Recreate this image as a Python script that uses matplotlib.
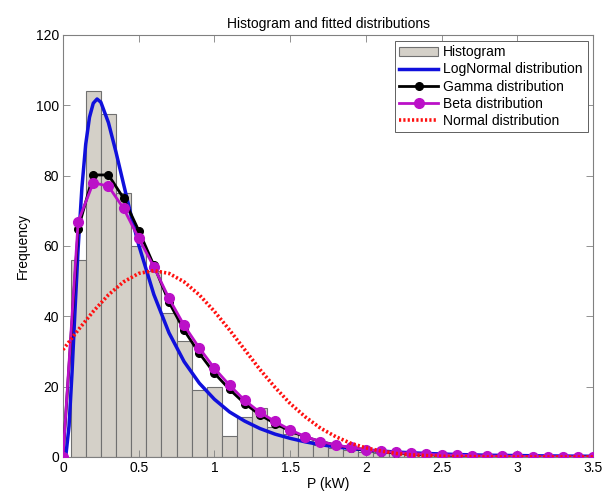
import numpy as np
import matplotlib
matplotlib.use('Agg')
import matplotlib.pyplot as plt

plt.rcParams['font.family'] = ['Liberation Sans', 'DejaVu Sans']

# histogram (bin centres 0.1 .. 2.5, width 0.1)
bin_centers = np.round(np.arange(1, 26) * 0.1, 2)
counts = [56, 104, 97.5, 75, 60, 53, 41, 33, 19, 20,
          6, 11.5, 14, 8.5, 6.5, 4.5, 3.5, 2.5, 2, 1.5,
          1, 1, 0.5, 0.5, 0.5]
bin_width = 0.1

# lognormal curve
logn_x = [0, 0.02, 0.04, 0.06, 0.08, 0.10, 0.125, 0.15, 0.175, 0.20, 0.225,
          0.25, 0.30, 0.35, 0.40, 0.45, 0.50, 0.60, 0.70, 0.80, 0.90, 1.0,
          1.1, 1.2, 1.3, 1.4, 1.5, 1.6, 1.7, 1.8, 1.9, 2.0, 2.2, 2.4, 2.6,
          2.8, 3.0, 3.2, 3.5]
logn_y = [0, 0.8, 8.8, 24.2, 42.3, 59.3, 76.6, 88.9, 96.6, 100.6, 101.8,
          100.9, 95.1, 86.7, 77.6, 68.6, 60.3, 46.2, 35.3, 27.1, 21.0, 16.4,
          12.8, 10.2, 8.1, 6.5, 5.3, 4.3, 3.5, 2.9, 2.4, 2.0, 1.4, 1.0, 0.7,
          0.5, 0.4, 0.3, 0.2]

# gamma / beta / normal sampled every 0.1 from 0 to 3.5
x_grid = np.round(np.arange(36) * 0.1, 2)
gamma_y = [0, 64.8, 80.2, 80.2, 73.6, 64.4, 54.5, 44.0, 36.0, 29.5,
           23.8, 19.2, 15.2, 12.0, 9.5, 7.4, 5.7, 4.4, 3.4, 2.6,
           2.0, 1.5, 1.2, 0.9, 0.7, 0.5, 0.4, 0.3, 0.2, 0.2,
           0.1, 0.1, 0.1, 0, 0, 0]
beta_y = [0, 66.9, 78.0, 77.0, 70.7, 62.2, 54.1, 45.1, 37.4, 31.0,
          25.2, 20.4, 16.1, 12.7, 10.1, 7.7, 5.8, 4.4, 3.4, 2.7,
          2.1, 1.6, 1.3, 1.0, 0.8, 0.6, 0.5, 0.4, 0.3, 0.2,
          0.2, 0.1, 0.1, 0.1, 0, 0]
normal_y = [30.5, 36.1, 41.4, 46.1, 49.8, 52.2, 53.0, 52.2, 49.8, 46.1,
            41.4, 36.1, 30.5, 24.9, 19.8, 15.2, 11.4, 8.2, 5.8, 3.9,
            2.6, 1.7, 1.0, 0.6, 0.4, 0.2, 0.1, 0.1, 0, 0,
            0, 0, 0, 0, 0, 0]

fig = plt.figure(figsize=(6.15, 4.95), dpi=100)
ax = fig.add_axes([0.1024, 0.0768, 0.862, 0.8525])

bars = ax.bar(bin_centers, counts, width=bin_width, color='#d4d0c8',
              edgecolor='#707070', linewidth=0.8, label='Histogram', zorder=1)
l1, = ax.plot(logn_x, logn_y, color='#1010dc', linewidth=2.5,
              label='LogNormal distribution', zorder=2)
l2, = ax.plot(x_grid, gamma_y, '-o', color='black', linewidth=2, markersize=5.5,
              label='Gamma distribution', zorder=3)
l3, = ax.plot(x_grid, beta_y, '-o', color='#bb10c8', linewidth=2, markersize=7,
              label='Beta distribution', zorder=4)
l4, = ax.plot(x_grid, normal_y, color='#ff1010', linewidth=2.6,
              linestyle=(0, (0.6, 0.6)), label='Normal distribution', zorder=5)

ax.set_xlim(0, 3.5)
ax.set_ylim(0, 120)
ax.set_xticks(np.arange(0, 3.51, 0.5))
ax.set_xticklabels(['0', '0.5', '1', '1.5', '2', '2.5', '3', '3.5'])
ax.set_yticks(np.arange(0, 121, 20))
ax.tick_params(direction='in', top=True, right=True, labelsize=10,
               length=5, width=0.6, color='#808080', pad=3)
for s in ax.spines.values():
    s.set_color('#808080')
    s.set_linewidth(0.8)

ax.set_title('Histogram and fitted distributions', fontsize=10, pad=5)
ax.set_xlabel('P (kW)', fontsize=10, labelpad=1)
ax.set_ylabel('Frequency', fontsize=10, labelpad=4)

# histogram first in the legend, as in the original
handles = [bars, l1, l2, l3, l4]
leg = ax.legend(handles, [h.get_label() for h in handles],
                loc='upper right', fontsize=10, fancybox=False, framealpha=1,
                edgecolor='#606060', borderpad=0.35, labelspacing=0.22,
                handlelength=2.8, handletextpad=0.35, borderaxespad=0.4)
leg.get_frame().set_linewidth(0.7)

fig.savefig('out.png', dpi=100)
